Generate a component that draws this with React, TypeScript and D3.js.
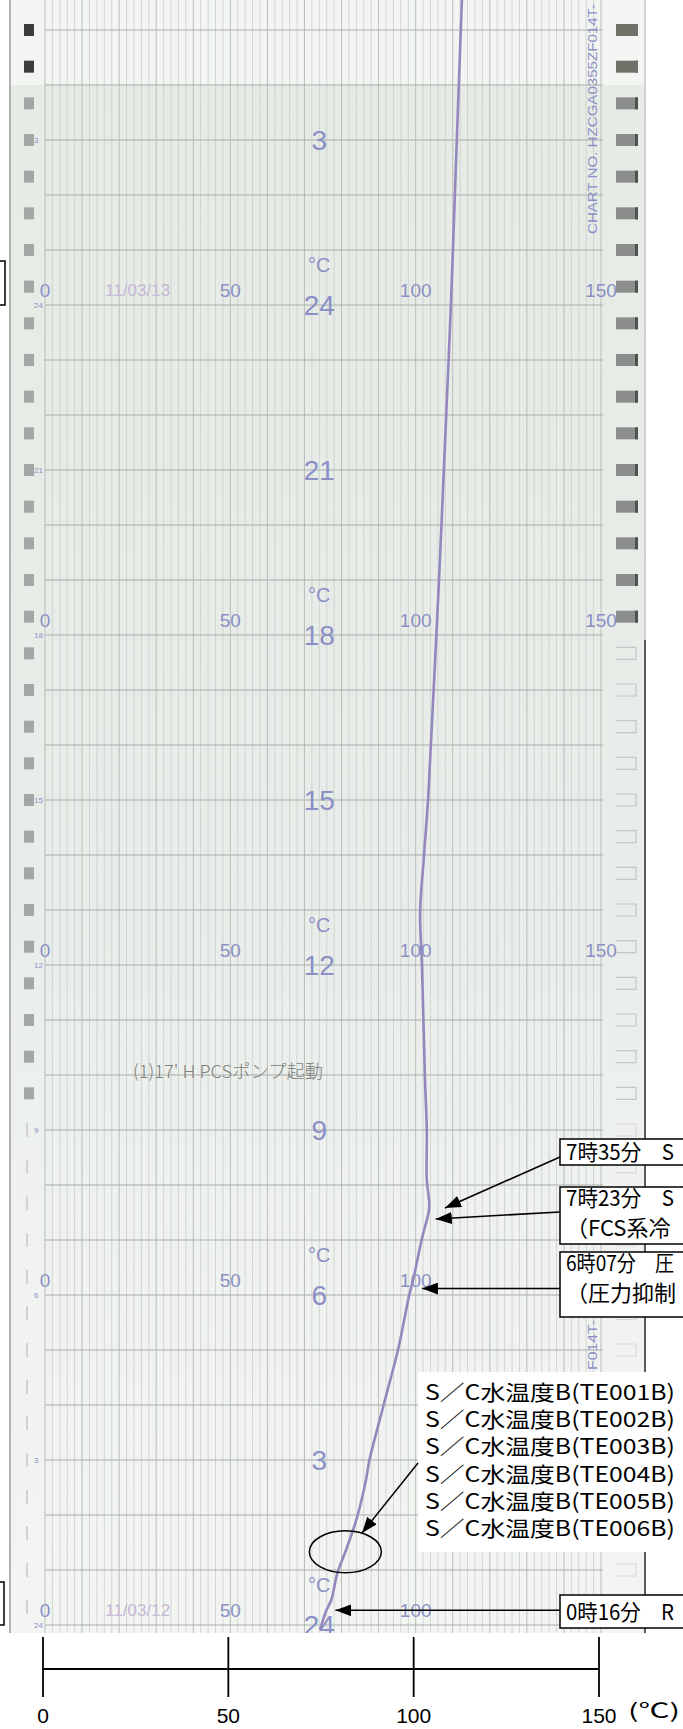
import React from "react";
import * as d3 from "d3";

// ---- data ----
// hours since 2011/03/12 00:00
const traceHours = [-0.09, 0.25, 0.45, 0.95, 1.36, 1.96, 2.64, 2.96, 3.96, 5.05, 5.98, 6.27, 7.0, 7.55, 7.73, 8.09, 9.0, 9.96, 12.0, 12.96, 13.95, 14.96, 15.73, 19.0, 21.0, 24.0, 27.0, 29.6];
const traceTemps = [74.2, 75.8, 77.2, 78.9, 81.2, 84.2, 86.6, 87.4, 91.2, 95.4, 98.2, 99.3, 101.6, 103.6, 103.6, 103.0, 103.0, 102.5, 101.7, 101.2, 102.2, 103.3, 103.9, 106.3, 107.6, 109.5, 111.1, 112.5];

const hourLineHours = d3.range(0, 30, 1);
const hourLabelHours = [0, 3, 6, 9, 12, 15, 18, 21, 24, 27];
const hourLabels = ["24", "3", "6", "9", "12", "15", "18", "21", "24", "3"];
const scaleRowHours = [0, 6, 12, 18, 24];
const scaleRowTicks = [[0, 50, 100], [0, 50, 100], [0, 50, 100, 150], [0, 50, 100, 150], [0, 50, 100, 150]];
const dateHours = [0, 24];
const dateLabels = ["11/03/12", "11/03/13"];
const axisTicks = [0, 50, 100, 150];
const axisUnit = "(℃)";

const annTimes = [0.267, 6.117, 7.383, 7.583];
const annLines = [
  ["0時16分　R"],
  ["6時07分　圧", "（圧力抑制"],
  ["7時23分　S", "（FCS系冷"],
  ["7時35分　S"],
];
const sensorIds = ["TE001B", "TE002B", "TE003B", "TE004B", "TE005B", "TE006B"];
const handNote = "(1)17'  H PCSポンプ起動";
const chartNo = "CHART NO. HZCGA0355ZF014T-";
const chartNoTail = "F014T-";

export default function App() {
  const W = 683, H = 1729;
  const paperBottom = 1633;
  const xP = d3.scaleLinear().domain([0, 150]).range([45, 601]);
  const yT = d3.scaleLinear().domain([0, 29]).range([1625, 30]);
  const xA = d3.scaleLinear().domain([0, 150]).range([43, 599]);

  const pts: [number, number][] = traceHours.map((h, i) => [xP(traceTemps[i]), yT(h)]);
  const tracePath = d3.line().curve(d3.curveCatmullRom.alpha(0.5))(pts) || "";
  const tempAt = d3.scaleLinear().domain(traceHours).range(traceTemps);
  const traceX = (h: number) => xP(tempAt(h));

  const vGrid = d3.range(0, 151, 2);
  const sprocketHours = d3.range(29, -0.5, -2 / 3);
  const lab = "#8a90c6";
  const cjk = "'Noto Sans CJK JP', sans-serif";
  const sans = "'Liberation Sans', Arial, sans-serif";

  // annotation box layout (top, height, arrow start y, arrow tip offset)
  const boxes = [
    { top: 1595, h: 33, ay: yT(annTimes[0]), off: 9 },
    { top: 1252, h: 65, ay: yT(annTimes[1]), off: 11 },
    { top: 1187, h: 57, ay: 1212, off: 9 },
    { top: 1139, h: 26, ay: 1157, off: 16 },
  ];

  return (
    <svg width={W} height={H} viewBox={`0 0 ${W} ${H}`} style={{ position: "absolute", left: 0, top: 0, display: "block", background: "#fff" }}>
      <defs>
        <linearGradient id="paper" x1="0" y1="0" x2="0" y2={paperBottom} gradientUnits="userSpaceOnUse">
          <stop offset="0" stopColor="#e6ebe6" />
          <stop offset="0.55" stopColor="#e9ede9" />
          <stop offset="0.75" stopColor="#eff2ef" />
          <stop offset="1" stopColor="#f3f5f2" />
        </linearGradient>
        <clipPath id="paperClip">
          <rect x={10} y={0} width={635} height={paperBottom} />
        </clipPath>
        <marker id="ah" viewBox="0 0 16 12" refX="16" refY="6" markerWidth="16" markerHeight="12" markerUnits="userSpaceOnUse" orient="auto">
          <path d="M0,0 L16,6 L0,12 z" fill="#000" />
        </marker>
      </defs>

      <g clipPath="url(#paperClip)">
        {/* paper */}
        <rect x={10} y={0} width={635} height={paperBottom} fill="url(#paper)" />
        <rect x={10} y={0} width={635} height={yT(28)} fill="#f3f5f2" />

        {/* vertical grid */}
        {vGrid.map((v) => (
          <line key={"v" + v} x1={xP(v)} x2={xP(v)} y1={0} y2={paperBottom}
            stroke={v % 10 === 0 ? "#b9beb9" : "#c9cec9"} strokeWidth={v % 10 === 0 ? 1 : 0.8} />
        ))}
        {/* hour lines */}
        {hourLineHours.map((h) => (
          <line key={"h" + h} x1={xP(0)} x2={xP(150) + 2} y1={yT(h)} y2={yT(h)} stroke="#a9aea9" strokeWidth={1.2} />
        ))}

        {/* sprocket holes */}
        {sprocketHours.map((h, i) => {
          const y = yT(h);
          const leftFill = i < 2 ? "#3c3c3c" : "#a4a8a4";
          const rightSolid = y < 620;
          return (
            <g key={"s" + i}>
              {y < 1100 ? (
                <rect x={24} y={y - 6} width={10} height={12} fill={leftFill} />
              ) : (
                <line x1={27} x2={27} y1={y - 7} y2={y + 7} stroke="#c6c9c6" strokeWidth={1.5} />
              )}
              {rightSolid ? (
                <g>
                  <rect x={616} y={y - 6} width={22} height={12} fill={i < 2 ? "#707068" : "#8c8e8c"} />
                  <rect x={635} y={y - 6} width={3} height={12} fill={i < 2 ? "#707068" : "#505250"} />
                </g>
              ) : (
                <path d={`M616,${y - 6} H636 V${y + 6} H616`} fill="none" stroke={y < 1100 ? "#c4c7c4" : "#d8dad8"} strokeWidth={1.2} />
              )}
            </g>
          );
        })}

        {/* small left hour marks */}
        {hourLabelHours.map((h, i) => (
          <text key={"sm" + h} x={34} y={yT(h) + 3} fontSize={8} fill={lab} fontFamily={sans}>{hourLabels[i]}</text>
        ))}

        {/* big hour labels */}
        {hourLabelHours.map((h, i) => (
          <text key={"hl" + h} x={xP(74)} y={yT(h)} dy="0.36em" textAnchor="middle" fontSize={28} fill={lab} fontFamily={sans}>{hourLabels[i]}</text>
        ))}

        {/* scale rows */}
        {scaleRowHours.map((h, r) => (
          <g key={"sr" + h}>
            {scaleRowTicks[r].map((t) => (
              <text key={t} x={xP(t)} y={yT(h) - 15} dy="0.36em" textAnchor="middle" fontSize={19} fill={lab} fontFamily={sans}>{t}</text>
            ))}
            <text x={xP(74)} y={yT(h) - 40} dy="0.36em" textAnchor="middle" fontSize={20} fill={lab} fontFamily={sans}>°C</text>
          </g>
        ))}
        {dateHours.map((h, i) => (
          <text key={"d" + h} x={xP(25)} y={yT(h) - 15} dy="0.36em" textAnchor="middle" fontSize={17} fill="#c6b8d6" fontFamily={sans}>{dateLabels[i]}</text>
        ))}

        {/* chart number (vertical) */}
        <text transform="translate(597,234) rotate(-90)" fontSize={13} textLength={230} lengthAdjust="spacingAndGlyphs" fill={lab} fontFamily={sans}>{chartNo}</text>
        <text transform="translate(597,1370) rotate(-90)" fontSize={13} textLength={50} lengthAdjust="spacingAndGlyphs" fill={lab} fontFamily={sans}>{chartNoTail}</text>

        {/* handwritten note */}
        <text x={133} y={1078} fontSize={18} fill="#7c7f7c" fontFamily={cjk} fontWeight={300} textLength={190} lengthAdjust="spacingAndGlyphs">{handNote}</text>

        {/* trace */}
        <path d={tracePath} fill="none" stroke="#9387bd" strokeWidth={2.6} strokeLinejoin="round" />
      </g>

      {/* paper edges */}
      <line x1={10} x2={10} y1={0} y2={paperBottom} stroke="#9a9c9a" strokeWidth={1.5} />
      <line x1={645} x2={645} y1={0} y2={640} stroke="#c4c6c4" strokeWidth={1.5} />
      <line x1={645} x2={645} y1={640} y2={paperBottom} stroke="#5a5a5a" strokeWidth={2} />

      {/* white legend box */}
      <rect x={418} y={1372} width={300} height={180} fill="#ffffff" />
      {sensorIds.map((s, i) => (
        <text key={s} x={425} y={1400 + i * 27.2} fontSize={21} fill="#000" fontFamily={cjk} textLength={250} lengthAdjust="spacingAndGlyphs">{`S／C水温度B(${s})`}</text>
      ))}

      {/* ellipse + its arrow */}
      <ellipse cx={traceX(1.33)} cy={yT(1.33)} rx={36} ry={21} fill="none" stroke="#000" strokeWidth={1.5} />
      <line x1={418} y1={1463} x2={362} y2={1533} stroke="#000" strokeWidth={1.5} markerEnd="url(#ah)" />

      {/* annotation boxes */}
      {boxes.map((b, i) => {
        const t = annTimes[i];
        const tipX = traceX(t) + b.off;
        const tipY = yT(t);
        return (
          <g key={"ann" + i}>
            <line x1={560} y1={b.ay} x2={tipX} y2={tipY} stroke="#000" strokeWidth={1.6} markerEnd="url(#ah)" />
            <rect x={560} y={b.top} width={200} height={b.h} fill="#fff" stroke="#000" strokeWidth={1.5} />
            {annLines[i].map((ln, j) => (
              <text key={j} x={566} y={b.top + (annLines[i].length === 1 ? b.h / 2 + 8 : 19 + j * 30)} fontSize={22} fill="#000" fontFamily={cjk}
                {...(j === 0 ? { textLength: 108, lengthAdjust: "spacingAndGlyphs" } : {})}>{ln}</text>
            ))}
          </g>
        );
      })}

      {/* cut-off boxes on the left edge */}
      <rect x={-20} y={261} width={25} height={44} fill="#fff" stroke="#000" strokeWidth={1.5} />
      <rect x={-20} y={1582} width={24} height={43} fill="#fff" stroke="#000" strokeWidth={1.5} />

      {/* bottom temperature axis */}
      <line x1={xA(0)} x2={xA(150)} y1={1669} y2={1669} stroke="#000" strokeWidth={1.8} />
      {axisTicks.map((t) => (
        <g key={"at" + t}>
          <line x1={xA(t)} x2={xA(t)} y1={1637} y2={1697} stroke="#000" strokeWidth={1.8} />
          <text x={xA(t)} y={1723} textAnchor="middle" fontSize={21} fill="#000" fontFamily={sans}>{t}</text>
        </g>
      ))}
      <text x={628} y={1718} fontSize={20} fill="#000" fontFamily={cjk} textLength={52} lengthAdjust="spacingAndGlyphs">{axisUnit}</text>
    </svg>
  );
}
